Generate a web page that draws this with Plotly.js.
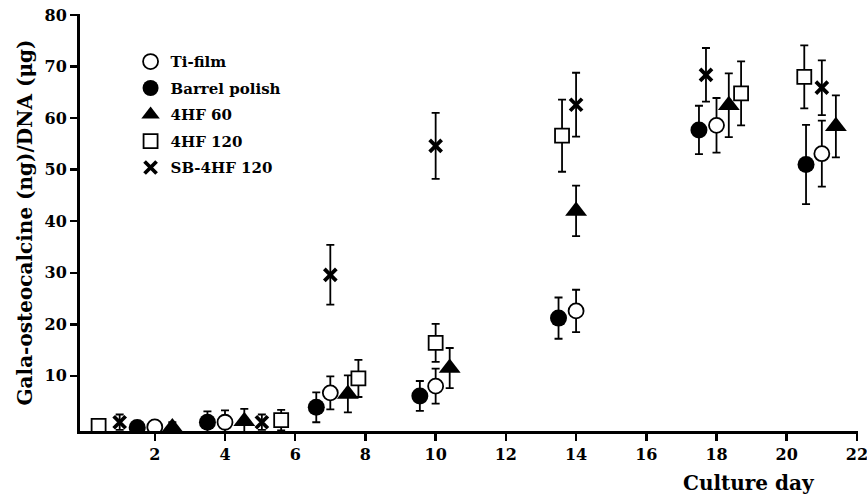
<!DOCTYPE html>
<html>
<head>
<meta charset="utf-8">
<script src="https://cdn.plot.ly/plotly-3.0.1.min.js"></script>
<style>html,body{margin:0;padding:0;background:#fff;}#chart{width:867px;height:494px;}</style>
</head>
<body>
<div id="chart"></div>
<script>
// Series names
const seriesNames = ["Ti-film", "Barrel polish", "4HF 60", "4HF 120", "SB-4HF 120"];

// Ti-film (open circle)
const tiX = [2, 4, 7, 10, 14, 18, 21];
const tiY = [0.1, 1.0, 6.7, 8.0, 22.6, 58.6, 53.1];
const tiErr = [1.1, 2.3, 3.2, 3.4, 4.1, 5.3, 6.4];

// Barrel polish (filled circle)
const bpX = [1.5, 3.5, 6.6, 9.55, 13.5, 17.5, 20.55];
const bpY = [0.0, 1.0, 3.9, 6.1, 21.2, 57.7, 51.0];
const bpErr = [1.0, 2.1, 2.9, 2.9, 4.0, 4.7, 7.7];

// 4HF 60 (filled triangle)
const h60X = [2.5, 4.55, 7.5, 10.4, 14.0, 18.35, 21.4];
const h60Y = [0.0, 1.2, 6.5, 11.5, 42.0, 62.5, 58.4];
const h60Err = [1.0, 2.4, 3.6, 3.9, 4.9, 6.2, 6.0];

// 4HF 120 (open square)
const h120X = [0.4, 5.6, 7.8, 10.0, 13.6, 18.7, 20.5];
const h120Y = [0.3, 1.4, 9.5, 16.4, 56.6, 64.8, 68.0];
const h120Err = [1.3, 2.0, 3.6, 3.7, 7.0, 6.2, 6.1];

// SB-4HF 120 (x)
const sbX = [1.0, 5.05, 7.0, 10.0, 14.0, 17.7, 21.0];
const sbY = [1.0, 1.0, 29.6, 54.6, 62.6, 68.4, 65.9];
const sbErr = [1.5, 1.5, 5.8, 6.4, 6.2, 5.2, 5.3];

// Tick labels
const xTicks = [2, 4, 6, 8, 10, 12, 14, 16, 18, 20, 22];
const yTicks = [10, 20, 30, 40, 50, 60, 70, 80];

const FONT = "DejaVu Serif";

function err(arr) {
  return {type: "data", array: arr, visible: true, color: "#000", thickness: 1.8, width: 4};
}

const traces = [
  {name: seriesNames[0], x: tiX, y: tiY, error_y: err(tiErr), legendgroup: "a",
   marker: {symbol: "circle", size: 15, color: "#fff", line: {color: "#000", width: 1.8}}},
  {name: seriesNames[1], x: bpX, y: bpY, error_y: err(bpErr), legendgroup: "b",
   marker: {symbol: "circle", size: 17, color: "#000", line: {color: "#000", width: 0}}},
  {name: seriesNames[2], x: h60X, y: h60Y, error_y: err(h60Err), legendgroup: "c",
   marker: {symbol: "triangle-up", size: 19, color: "#000", line: {color: "#000", width: 0}}},
  {name: seriesNames[3], x: h120X, y: h120Y, error_y: err(h120Err), legendgroup: "d",
   marker: {symbol: "square", size: 14, color: "#fff", line: {color: "#000", width: 1.8}}},
  {name: seriesNames[4], x: sbX, y: sbY, error_y: err(sbErr), legendgroup: "e",
   marker: {symbol: "x-thin", size: 12, color: "#000", line: {color: "#000", width: 3.8}}}
].map(t => Object.assign({type: "scatter", mode: "markers", cliponaxis: true}, t));

const layout = {
  width: 867, height: 494,
  margin: {l: 80, r: 9, t: 14, b: 63},
  paper_bgcolor: "#fff", plot_bgcolor: "#fff",
  font: {family: FONT, color: "#000", size: 15, weight: "bold"},
  showlegend: true,
  legend: {x: 0.065, y: 0.925, xanchor: "left", yanchor: "top", bgcolor: "rgba(0,0,0,0)",
           font: {family: FONT, size: 15, weight: "bold", color: "#000"},
           traceorder: "grouped", tracegroupgap: 4, itemclick: false},
  xaxis: {range: [-0.13, 22.03], tickvals: xTicks, ticktext: xTicks.map(String),
          showline: true, linecolor: "#000", linewidth: 3, mirror: false,
          ticks: "outside", ticklen: 7, tickwidth: 2.5, tickcolor: "#000",
          showgrid: false, zeroline: false, ticklabeloverflow: "allow",
          tickfont: {family: FONT, size: 16, weight: "bold", color: "#000"}},
  yaxis: {range: [-0.7, 80.2], tickvals: yTicks, ticktext: yTicks.map(String),
          showline: true, linecolor: "#000", linewidth: 3, mirror: false,
          ticks: "outside", ticklen: 7, tickwidth: 2.5, tickcolor: "#000",
          showgrid: false, zeroline: false, ticklabeloverflow: "allow",
          tickfont: {family: FONT, size: 16, weight: "bold", color: "#000"},
          title: {text: "Gala-osteocalcine (ng)/DNA (μg)", standoff: 7,
                  font: {family: FONT, size: 20, weight: "bold", color: "#000"}}},
  annotations: [
    {text: "Culture day", xref: "paper", yref: "paper", x: 0.86, y: -0.125,
     xanchor: "center", yanchor: "middle", showarrow: false,
     font: {family: FONT, size: 20, weight: "bold", color: "#000"}}
  ]
};

Plotly.newPlot("chart", traces, layout, {displayModeBar: false, staticPlot: true});
</script>
</body>
</html>
